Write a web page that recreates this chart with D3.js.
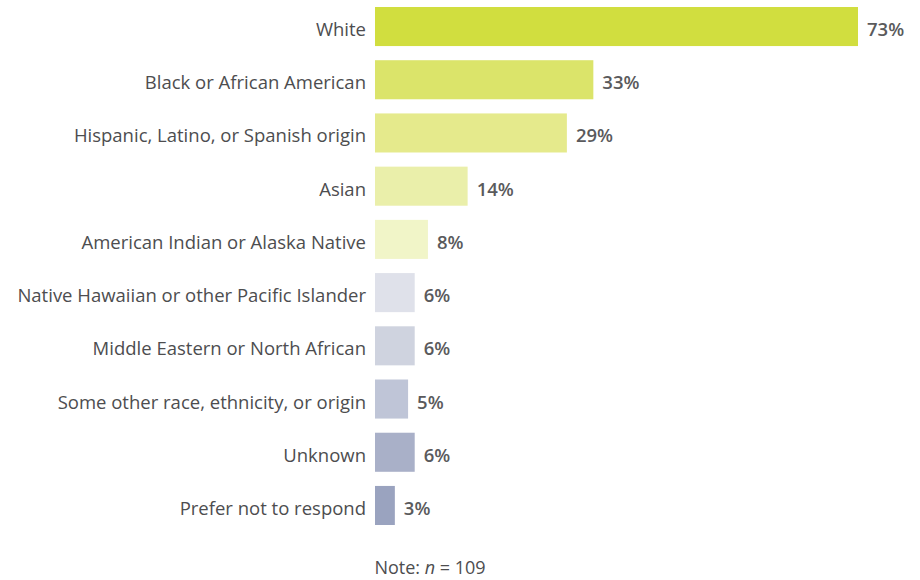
<!DOCTYPE html>
<html>
<head>
<meta charset="utf-8">
<script src="https://cdn.jsdelivr.net/npm/d3@7"></script>
<style>
  html, body { margin: 0; padding: 0; background: #fff; }
  svg { display: block; }
  text { font-family: "Open Sans", "Noto Sans", sans-serif; }
</style>
</head>
<body>
<svg id="chart" width="920" height="580"></svg>
<script>
// Respondent race / ethnicity, percent of respondents
const categories = [
  "White",
  "Black or African American",
  "Hispanic, Latino, or Spanish origin",
  "Asian",
  "American Indian or Alaska Native",
  "Native Hawaiian or other Pacific Islander",
  "Middle Eastern or North African",
  "Some other race, ethnicity, or origin",
  "Unknown",
  "Prefer not to respond"
];
const values = [73, 33, 29, 14, 8, 6, 6, 5, 6, 3];
const barColors = [
  "#d1de3f", "#dbe46a", "#e5ea8c", "#eaefaa", "#f1f5c8",
  "#dfe1ea", "#cfd3df", "#bfc5d7", "#a9b0c8", "#9aa3bf"
];
const noteText = "109";

const svg = d3.select("#chart");
const left = 375;

const x = d3.scaleLinear().domain([0, 73]).range([left, 858]);
const y = d3.scaleBand()
  .domain(categories)
  .range([7, 525])
  .paddingInner(0.266)
  .paddingOuter(0);

const rows = svg.append("g")
  .selectAll("g")
  .data(categories.map((c, i) => ({ c, v: values[i], color: barColors[i] })))
  .join("g");

rows.append("rect")
  .attr("x", x(0))
  .attr("y", d => y(d.c))
  .attr("width", d => x(d.v) - x(0))
  .attr("height", y.bandwidth())
  .attr("fill", d => d.color);

rows.append("text")
  .attr("x", x(0) - 9)
  .attr("y", d => y(d.c) + y.bandwidth() / 2 + 3)
  .attr("dy", "0.35em")
  .attr("text-anchor", "end")
  .attr("font-size", 18.5)
  .attr("font-weight", 500)
  .attr("fill", "#4d4d4f")
  .text(d => d.c);

rows.append("text")
  .attr("x", d => x(d.v) + 9)
  .attr("y", d => y(d.c) + y.bandwidth() / 2 + 3)
  .attr("dy", "0.35em")
  .attr("font-size", 18.5)
  .attr("font-weight", 600)
  .attr("fill", "#5a5a5c")
  .text(d => d3.format(".0f")(d.v) + "%");

const note = svg.append("text")
  .attr("x", 430)
  .attr("y", 574)
  .attr("text-anchor", "middle")
  .attr("font-size", 18)
  .attr("fill", "#4d4d4f");
note.append("tspan").text("Note: ");
note.append("tspan").attr("font-style", "italic").text("n");
note.append("tspan").text(" = " + noteText);
</script>
</body>
</html>
